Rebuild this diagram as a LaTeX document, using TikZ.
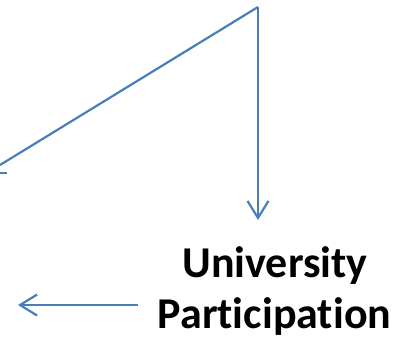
\documentclass[tikz,border=0pt]{standalone}
\usepackage{fontspec}
\setmainfont{Carlito}[Ligatures={NoCommon,NoContextual}]
\usetikzlibrary{arrows.meta}

\definecolor{lineblue}{RGB}{74,126,187}

\begin{document}
\begin{tikzpicture}[x=1bp, y=-1bp,
label_bold/.style={inner sep=0pt, anchor=base, font=\fontsize{44bp}{51bp}\selectfont\bfseries},
link/.style={draw=lineblue, line width=2.2bp},
link_arrow/.style={link, -{Straight Barb[length=17bp, width=21bp, line width=2.2bp]}},
]

\useasboundingbox (0,0) rectangle (410,339);

% \node[type](name_of_node) at (x,y){text_in_node}
\node[label_bold](university_label) at (275,277){University};
\node[label_bold](participation_label) at (274.5,328){Participation};

% corners and loose ends of the lines
\coordinate (top_corner) at (258,7);
\coordinate (left_end) at (0,165);
\coordinate (down_tip) at (258,220);
\coordinate (left_tip) at (18,306);
\coordinate (arrow_start) at ([yshift=11bp, xshift=-20bp]participation_label.west);
\coordinate (tick_start) at (0,173);
\coordinate (tick_end) at (7,173);

\draw[link] (left_end) -- (top_corner);
\draw[link_arrow] (top_corner) -- (down_tip);
\draw[link_arrow] (arrow_start) -- (arrow_start -| left_tip);
\draw[link] (tick_start) -- (tick_end);

\end{tikzpicture}
\end{document}
